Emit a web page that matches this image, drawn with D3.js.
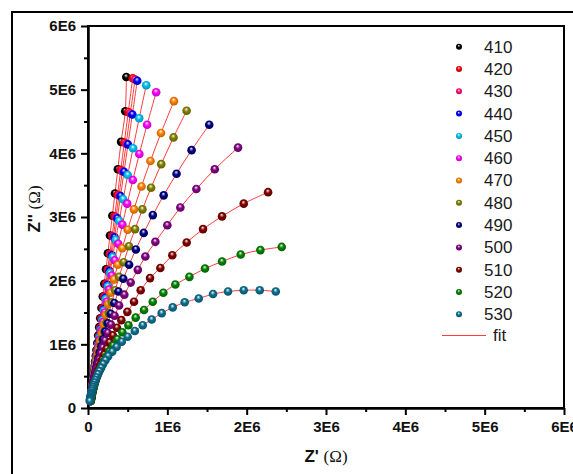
<!DOCTYPE html>
<html>
<head>
<meta charset="utf-8">
<script src="https://cdnjs.cloudflare.com/ajax/libs/d3/7.8.5/d3.min.js"></script>
<style>
  body { margin: 0; background: #fff; }
  svg { display: block; }
  .tick text { font-family: Arial, "Liberation Sans", sans-serif; font-weight: bold; font-size: 15px; fill: #111; }
</style>
</head>
<body>
<svg id="chart" width="573" height="474"></svg>
<script>
// Nyquist data, Z' (zr) and Z'' (zi) in units of 1E6 ohm, lowest frequency first
const temps = ['410', '420', '430', '440', '450', '460', '470', '480', '490', '500', '510', '520', '530'];
const colors = ['#000000', '#ff0000', '#ff0a78', '#0000ff', '#00c0f0', '#ff00ff', '#ff8000',
                '#808000', '#000080', '#800080', '#800000', '#008000', '#0b6e8c'];

const zi410 = [5.20,4.66,4.18,3.75,3.37,3.02,2.71,2.43,2.18,1.95,1.75,1.57,1.41,1.27,1.14,1.02,0.91,0.82,0.73,0.66,0.59,0.53,0.48,0.43,0.38,0.34,0.31,0.28,0.25,0.22,0.20,0.18,0.16,0.14,0.13,0.12];
const zr410 = [0.483,0.470,0.417,0.376,0.340,0.307,0.277,0.251,0.227,0.205,0.186,0.169,0.154,0.141,0.128,0.117,0.106,0.098,0.089,0.083,0.076,0.070,0.066,0.061,0.056,0.052,0.049,0.047,0.044,0.041,0.039,0.037,0.035,0.033,0.032,0.031];

const zi420 = [5.18,4.65,4.17,3.74,3.35,3.01,2.70,2.42,2.17,1.95,1.75,1.57,1.41,1.26,1.13,1.01,0.91,0.82,0.73,0.66,0.59,0.53,0.47,0.43,0.38,0.34,0.31,0.28,0.25,0.22,0.20,0.18,0.16,0.14,0.13,0.12];
const zr420 = [0.564,0.508,0.458,0.413,0.372,0.336,0.304,0.274,0.248,0.225,0.204,0.185,0.168,0.152,0.139,0.126,0.116,0.106,0.097,0.089,0.082,0.076,0.069,0.065,0.060,0.056,0.053,0.049,0.046,0.043,0.041,0.039,0.037,0.035,0.034,0.033];

const zi430 = [5.16,4.63,4.15,3.72,3.34,3.00,2.69,2.41,2.16,1.94,1.74,1.56,1.40,1.26,1.13,1.01,0.91,0.81,0.73,0.65,0.59,0.53,0.47,0.42,0.38,0.34,0.31,0.27,0.25,0.22,0.20,0.18,0.16,0.14,0.13,0.12];
const zr430 = [0.593,0.534,0.481,0.433,0.391,0.353,0.319,0.288,0.260,0.235,0.213,0.193,0.175,0.160,0.145,0.132,0.121,0.110,0.101,0.092,0.085,0.079,0.072,0.067,0.062,0.058,0.054,0.050,0.048,0.044,0.042,0.040,0.038,0.036,0.034,0.033];

const zi440 = [5.14,4.61,4.14,3.71,3.33,2.98,2.68,2.40,2.15,1.93,1.73,1.55,1.39,1.25,1.12,1.01,0.90,0.81,0.73,0.65,0.58,0.52,0.47,0.42,0.38,0.34,0.30,0.27,0.25,0.22,0.20,0.18,0.16,0.14,0.13,0.11];
const zr440 = [0.621,0.559,0.504,0.454,0.410,0.369,0.334,0.301,0.272,0.246,0.222,0.201,0.183,0.166,0.151,0.138,0.125,0.115,0.105,0.096,0.088,0.081,0.075,0.069,0.064,0.060,0.055,0.052,0.049,0.046,0.043,0.041,0.039,0.036,0.035,0.033];

const zi450 = [5.07,4.55,4.08,3.66,3.28,2.94,2.64,2.37,2.12,1.91,1.71,1.53,1.38,1.23,1.11,0.99,0.89,0.80,0.72,0.64,0.58,0.52,0.46,0.42,0.37,0.33,0.30,0.27,0.24,0.22,0.19,0.17,0.16,0.14,0.13,0.11];
const zr450 = [0.734,0.645,0.568,0.501,0.443,0.392,0.349,0.311,0.277,0.249,0.222,0.199,0.180,0.162,0.147,0.132,0.121,0.110,0.101,0.091,0.084,0.077,0.069,0.066,0.060,0.056,0.053,0.049,0.046,0.044,0.041,0.038,0.037,0.035,0.034,0.032];

const zi460 = [4.96,4.45,3.99,3.58,3.21,2.88,2.58,2.32,2.08,1.86,1.67,1.50,1.35,1.21,1.08,0.97,0.87,0.78,0.70,0.63,0.56,0.51,0.45,0.41,0.37,0.33,0.29,0.26,0.24,0.21,0.19,0.17,0.15,0.14,0.12,0.11];
const zr460 = [0.859,0.745,0.647,0.565,0.494,0.433,0.381,0.337,0.298,0.264,0.235,0.210,0.188,0.169,0.151,0.136,0.123,0.112,0.102,0.093,0.084,0.078,0.071,0.066,0.062,0.057,0.052,0.049,0.046,0.043,0.041,0.039,0.036,0.035,0.033,0.032];

const zi470 = [4.82,4.32,3.88,3.48,3.12,2.80,2.51,2.25,2.02,1.81,1.63,1.46,1.31,1.17,1.05,0.94,0.85,0.76,0.68,0.61,0.55,0.49,0.44,0.40,0.35,0.32,0.29,0.26,0.23,0.21,0.18,0.17,0.15,0.13,0.12,0.11];
const zr470 = [1.083,0.920,0.787,0.674,0.579,0.500,0.432,0.375,0.328,0.286,0.253,0.222,0.197,0.174,0.155,0.138,0.125,0.112,0.101,0.092,0.084,0.076,0.070,0.065,0.059,0.055,0.052,0.048,0.045,0.043,0.039,0.038,0.036,0.034,0.033,0.032];

const zi480 = [4.67,4.25,3.83,3.46,3.12,2.81,2.54,2.29,2.06,1.85,1.66,1.49,1.34,1.20,1.08,0.97,0.87,0.78,0.70,0.63,0.56,0.50,0.45,0.40,0.36,0.33,0.29,0.26,0.24,0.21,0.19,0.17,0.15,0.14,0.12,0.11];
const zr480 = [1.243,1.078,0.923,0.795,0.686,0.593,0.516,0.450,0.392,0.342,0.299,0.262,0.232,0.204,0.182,0.162,0.145,0.130,0.117,0.106,0.095,0.086,0.079,0.071,0.066,0.062,0.056,0.052,0.050,0.046,0.043,0.041,0.038,0.037,0.034,0.033];

const zi490 = [4.45,4.05,3.68,3.34,3.03,2.75,2.49,2.25,2.03,1.83,1.65,1.48,1.33,1.20,1.08,0.97,0.87,0.78,0.70,0.63,0.56,0.50,0.45,0.41,0.36,0.33,0.29,0.26,0.24,0.21,0.19,0.17,0.15,0.14,0.12,0.11];
const zr490 = [1.528,1.306,1.116,0.954,0.817,0.702,0.603,0.518,0.445,0.384,0.332,0.287,0.249,0.218,0.192,0.168,0.148,0.131,0.117,0.105,0.093,0.084,0.076,0.070,0.063,0.059,0.054,0.050,0.047,0.044,0.041,0.039,0.036,0.035,0.033,0.032];

const zi500 = [4.09,3.75,3.44,3.15,2.87,2.61,2.38,2.17,1.97,1.78,1.61,1.45,1.31,1.18,1.06,0.95,0.86,0.77,0.69,0.62,0.56,0.50,0.45,0.40,0.36,0.33,0.29,0.26,0.24,0.21,0.19,0.17,0.15,0.14,0.12,0.11];
const zr500 = [1.891,1.598,1.366,1.164,1.000,0.849,0.723,0.628,0.538,0.458,0.392,0.335,0.288,0.248,0.214,0.185,0.162,0.141,0.124,0.110,0.098,0.087,0.078,0.070,0.064,0.059,0.054,0.049,0.047,0.043,0.040,0.038,0.036,0.034,0.032,0.031];

const zi510 = [3.39,3.21,3.01,2.81,2.60,2.40,2.20,2.04,1.85,1.67,1.51,1.38,1.26,1.14,1.03,0.93,0.84,0.76,0.68,0.61,0.55,0.49,0.44,0.40,0.36,0.32,0.29,0.26,0.23,0.21,0.19,0.17,0.15,0.14,0.12,0.11];
const zr510 = [2.270,1.963,1.690,1.450,1.244,1.063,0.912,0.782,0.664,0.580,0.496,0.420,0.365,0.314,0.271,0.235,0.204,0.179,0.155,0.136,0.120,0.105,0.094,0.085,0.077,0.069,0.063,0.058,0.052,0.049,0.046,0.043,0.040,0.038,0.035,0.034];

const zi520 = [2.53,2.48,2.41,2.30,2.19,2.06,1.94,1.81,1.67,1.54,1.42,1.30,1.19,1.08,0.98,0.89,0.81,0.73,0.66,0.60,0.54,0.49,0.44,0.40,0.36,0.32,0.29,0.26,0.23,0.21,0.19,0.17,0.15,0.14,0.12,0.11];
const zr520 = [2.442,2.173,1.925,1.690,1.475,1.278,1.101,0.950,0.816,0.706,0.601,0.509,0.433,0.370,0.316,0.270,0.233,0.199,0.171,0.149,0.129,0.114,0.099,0.088,0.078,0.069,0.062,0.056,0.050,0.047,0.043,0.040,0.037,0.035,0.033,0.031];

const zi530 = [1.83,1.85,1.85,1.83,1.79,1.72,1.66,1.58,1.49,1.39,1.30,1.21,1.12,1.04,0.96,0.885,0.815,0.75,0.69,0.63,0.58,0.53,0.48,0.44,0.40,0.36,0.33,0.30,0.27,0.24,0.22,0.20,0.18,0.16,0.14,0.13,0.11];
const zr530 = [2.367,2.165,1.963,1.765,1.576,1.396,1.219,1.068,0.929,0.803,0.690,0.590,0.500,0.425,0.360,0.305,0.255,0.220,0.191,0.165,0.144,0.125,0.108,0.095,0.083,0.072,0.064,0.057,0.050,0.044,0.040,0.036,0.032,0.029,0.026,0.025,0.022];

const realParts = [zr410, zr420, zr430, zr440, zr450, zr460, zr470, zr480, zr490, zr500, zr510, zr520, zr530];
const imagParts = [zi410, zi420, zi430, zi440, zi450, zi460, zi470, zi480, zi490, zi500, zi510, zi520, zi530];

const xMajor = [0, 1, 2, 3, 4, 5, 6];
const xMinor = [0.5, 1.5, 2.5, 3.5, 4.5, 5.5];
const yMajor = [0, 1, 2, 3, 4, 5, 6];
const yMinor = [0.5, 1.5, 2.5, 3.5, 4.5, 5.5];
const fmtE6 = d => d === 0 ? '0' : d + 'E6';

const svg = d3.select('#chart');
const defs = svg.append('defs');

const x = d3.scaleLinear().domain([0, 6]).range([88, 564]);
const y = d3.scaleLinear().domain([0, 6]).range([408, 26]);

// shaded ball marker, one gradient per series
colors.forEach((c, i) => {
  const g = defs.append('radialGradient').attr('id', 'ball' + i)
    .attr('cx', '50%').attr('cy', '50%').attr('r', '55%')
    .attr('fx', '45%').attr('fy', '30%');
  g.append('stop').attr('offset', '0%').attr('stop-color', '#ffffff');
  g.append('stop').attr('offset', '18%').attr('stop-color', d3.interpolateRgb(c, '#ffffff')(0.55));
  g.append('stop').attr('offset', '45%').attr('stop-color', c);
  g.append('stop').attr('offset', '100%').attr('stop-color', d3.color(c).darker(0.9).formatHex());
});

// outer frame
svg.append('rect')
  .attr('x', 12).attr('y', 12).attr('width', 640).attr('height', 540)
  .attr('fill', 'none').attr('stroke', '#000').attr('stroke-width', 2);

// plot box
svg.append('rect')
  .attr('x', x(0)).attr('y', y(6))
  .attr('width', x(6) - x(0)).attr('height', y(0) - y(6))
  .attr('fill', 'none').attr('stroke', '#000').attr('stroke-width', 2);

// axes
function styleAxis(g) {
  g.select('.domain').attr('stroke-width', 2);
  g.selectAll('.tick line').attr('stroke-width', 2);
}

svg.append('g').attr('transform', 'translate(0,408)')
  .call(d3.axisBottom(x).tickValues(xMinor).tickSize(4).tickFormat('').tickSizeOuter(0))
  .call(styleAxis);
svg.append('g').attr('transform', 'translate(0,408)')
  .call(d3.axisBottom(x).tickValues(xMajor).tickSize(7).tickPadding(6).tickFormat(fmtE6).tickSizeOuter(0))
  .call(styleAxis);

svg.append('g').attr('transform', 'translate(88,0)')
  .call(d3.axisLeft(y).tickValues(yMinor).tickSize(4).tickFormat('').tickSizeOuter(0))
  .call(styleAxis);
svg.append('g').attr('transform', 'translate(88,0)')
  .call(d3.axisLeft(y).tickValues(yMajor).tickSize(7).tickPadding(5).tickFormat(fmtE6).tickSizeOuter(0))
  .call(styleAxis);

// axis titles
const xt = svg.append('text')
  .attr('x', 326).attr('y', 462).attr('text-anchor', 'middle')
  .style('font-size', '17px').style('fill', '#111');
xt.append('tspan').style('font-family', 'Arial, "Liberation Sans", sans-serif').style('font-weight', 'bold').text("Z' ");
xt.append('tspan').style('font-family', '"Liberation Serif", "Times New Roman", serif').text('(Ω)');

const yt = svg.append('text')
  .attr('transform', 'translate(40,209) rotate(-90)').attr('text-anchor', 'middle')
  .style('font-size', '17px').style('fill', '#111');
yt.append('tspan').style('font-family', 'Arial, "Liberation Sans", sans-serif').style('font-weight', 'bold').text("Z'' ");
yt.append('tspan').style('font-family', '"Liberation Serif", "Times New Roman", serif').text('(Ω)');

// fit curves and measured points
const fitLine = d3.line()
  .x(d => x(d[0]))
  .y(d => y(d[1]))
  .curve(d3.curveCatmullRom.alpha(0.5));

const plot = svg.append('g');
temps.forEach((t, i) => {
  const pts = d3.zip(realParts[i], imagParts[i]);
  plot.append('path')
    .datum(pts)
    .attr('d', fitLine)
    .attr('fill', 'none')
    .attr('stroke', '#ff3b3b')
    .attr('stroke-width', 1);
  plot.append('g').selectAll('circle')
    .data(pts)
    .join('circle')
    .attr('cx', d => x(d[0]))
    .attr('cy', d => y(d[1]))
    .attr('r', 4.3)
    .attr('fill', 'url(#ball' + i + ')');
});

// legend
const legend = svg.append('g')
  .style('font-family', 'Arial, "Liberation Sans", sans-serif')
  .style('font-size', '17px');
temps.forEach((t, i) => {
  const cy = 46.7 + i * 22.3;
  legend.append('circle').attr('cx', 459).attr('cy', cy).attr('r', 3)
    .attr('fill', 'url(#ball' + i + ')');
  legend.append('text').attr('x', 484).attr('y', cy).attr('dy', '0.35em')
    .style('fill', '#1a1a1a').text(t);
});
legend.append('line')
  .attr('x1', 442).attr('x2', 486).attr('y1', 335.5).attr('y2', 335.5)
  .attr('stroke', '#ff3b3b').attr('stroke-width', 1);
legend.append('text').attr('x', 493).attr('y', 335.5).attr('dy', '0.35em')
  .style('fill', '#1a1a1a').text('fit');
</script>
</body>
</html>
